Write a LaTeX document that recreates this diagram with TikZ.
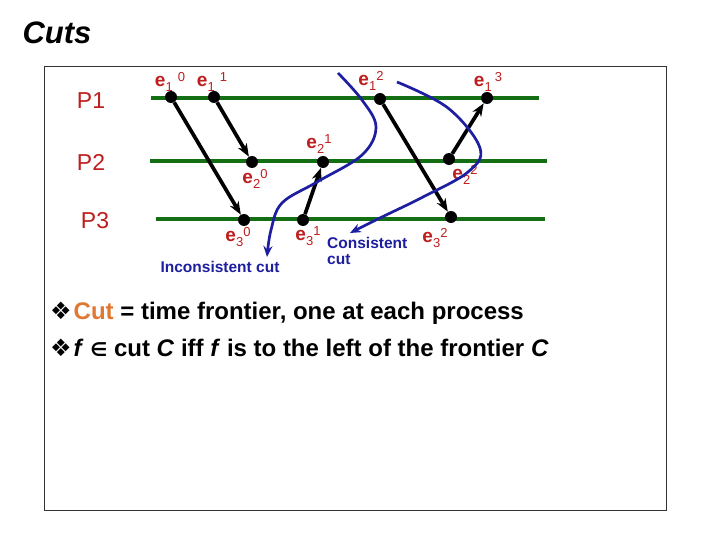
\documentclass[tikz,border=0pt]{standalone}
\usepackage{fontspec}
\setmainfont{Liberation Sans}
\newfontfamily\dejavu{DejaVu Sans}
\usetikzlibrary{arrows.meta}
\definecolor{pgreen}{RGB}{20,110,20}
\definecolor{pred}{RGB}{190,30,30}
\definecolor{pblue}{RGB}{30,30,160}
\definecolor{corange}{RGB}{225,120,50}
\newcommand{\evt}[3][0pt]{{\fontsize{19}{19}\selectfont\bfseries e}\raisebox{-5pt}{\fontsize{13}{13}\selectfont #2}\hspace{#1}\raisebox{5pt}{\fontsize{13}{13}\selectfont #3}}
\newcommand{\bul}{{\dejavu\fontsize{24}{24}\selectfont ❖}}
\tikzset{
  proc/.style={draw=pgreen, line width=4pt},
  dot/.style={circle, fill=black, inner sep=0pt, minimum size=12pt},
  msg/.style={draw=black, line width=3.7pt, -{Stealth[length=13pt,width=10pt]}},
  cutline/.style={draw=pblue, line width=2.7pt, -{Stealth[length=11pt,width=9pt]}},
  plabel/.style={text=pred, font=\fontsize{23}{23}\selectfont},
  elabel/.style={text=pred, inner sep=0pt},
  blabel/.style={text=pblue, font=\fontsize{15.5}{16}\selectfont\bfseries, inner sep=0pt},
  btext/.style={anchor=base west, inner sep=0pt, font=\fontsize{24}{24}\selectfont\bfseries}
}
\begin{document}
\begin{tikzpicture}[x=1pt,y=-1pt]
\useasboundingbox (0,0) rectangle (720,540);
\fill[white] (0,0) rectangle (720,540);
\node[font=\fontsize{31}{31}\selectfont\bfseries\itshape] (title) at (57,33) {Cuts};
\draw[line width=1pt, black!80] (44,67) rectangle (666,510);

% processes
\node[plabel] (p1) at (91,101) {P1};
\node[plabel] (p2) at (91,162) {P2};
\node[plabel] (p3) at (95,221) {P3};
\coordinate (p1s) at (151,98); \coordinate (p1e) at (539,98);
\coordinate (p2s) at (150,161); \coordinate (p2e) at (547,161);
\coordinate (p3s) at (156,219); \coordinate (p3e) at (545,219);
\draw[proc] (p1s) -- (p1e);
\draw[proc] (p2s) -- (p2e);
\draw[proc] (p3s) -- (p3e);

% events
\node[dot] (e10) at (171,97) {};
\node[dot] (e11) at (214,97) {};
\node[dot] (e12) at (380,99) {};
\node[dot] (e13) at (487,98) {};
\node[dot] (e20) at (252,162) {};
\node[dot] (e21) at (323,162) {};
\node[dot] (e22) at (449,159) {};
\node[dot] (e30) at (244,220) {};
\node[dot] (e31) at (303,220) {};
\node[dot] (e32) at (451,217) {};

% event labels
\node[elabel] (l10) at (170,82) {\evt[5pt]{1}{0}};
\node[elabel] (l11) at (212,82) {\evt[5pt]{1}{1}};
\node[elabel] (l12) at (371,81) {\evt{1}{2}};
\node[elabel] (l13) at (488,82) {\evt[3pt]{1}{3}};
\node[elabel] (l20) at (255,179) {\evt{2}{0}};
\node[elabel] (l21) at (319,144) {\evt{2}{1}};
\node[elabel] (l22) at (465,175) {\evt{2}{2}};
\node[elabel] (l30) at (238,237) {\evt{3}{0}};
\node[elabel] (l31) at (308,236) {\evt{3}{1}};
\node[elabel] (l32) at (435,238) {\evt{3}{2}};

% messages
\draw[msg] (e10) -- (e30);
\draw[msg] (e11) -- (e20);
\draw[msg] (e31) -- (e21);
\draw[msg] (e12) -- (e32);
\draw[msg] (e22) -- (e13);

% cuts
\draw[cutline] plot[smooth, tension=0.6] coordinates {(338,73) (362,100) (376,127) (362,155) (317,182) (282,203) (271,230) (267,257)};
\draw[cutline] plot[smooth, tension=0.6] coordinates {(397,82) (448,108) (480,148) (468,172) (423,197) (382,217) (350,233)};

\node[blabel] (inc) at (220,267) {Inconsistent cut};
\node[blabel, align=left, anchor=north west] (con) at (327,237) {Consistent\\cut};

% bullets
\node[btext] (b1) at (50,319.5) {\bul\hspace{2pt}\textcolor{corange}{Cut} = time frontier, one at each process};
\node[btext] (b2) at (50,356.5) {\bul\hspace{2pt}\textit{f} {\dejavu\fontsize{19}{19}\selectfont ∈} cut \textit{C} iff \textit{f} is to the left of the frontier \textit{C}};
\end{tikzpicture}
\end{document}
